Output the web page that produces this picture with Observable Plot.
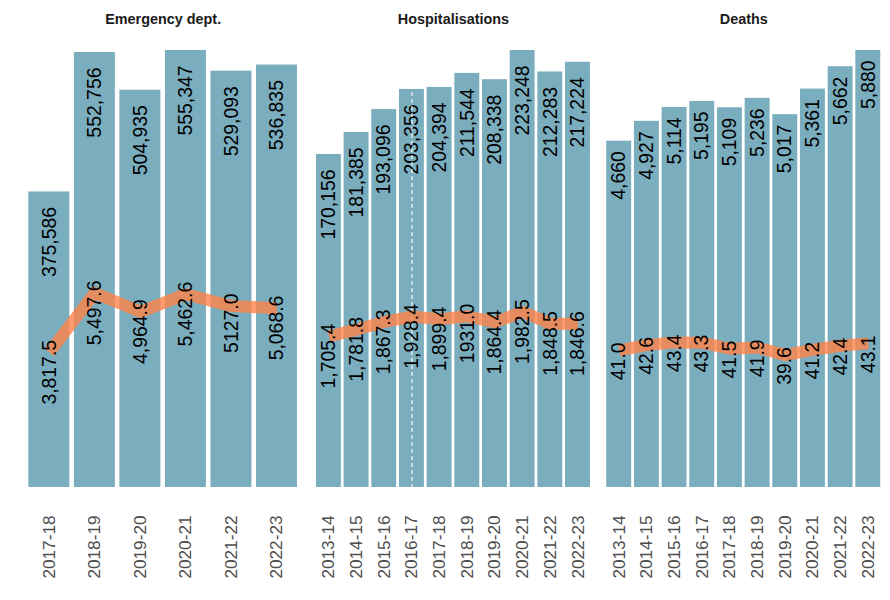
<!DOCTYPE html>
<html>
<head>
<meta charset="utf-8">
<script src="https://cdn.jsdelivr.net/npm/d3@7"></script>
<script src="https://cdn.jsdelivr.net/npm/@observablehq/plot@0.6"></script>
<style>
  body { margin: 0; background: #ffffff; }
  #chart { position: relative; width: 890px; height: 600px; overflow: hidden; }
  #chart svg { position: absolute; left: 0; top: 0; max-width: none; }
</style>
</head>
<body>
<div id="chart"></div>
<script>
// ---------- data ----------
const edYears = ["2017-18", "2018-19", "2019-20", "2020-21", "2021-22", "2022-23"];
const edCounts = [375586, 552756, 504935, 555347, 529093, 536835];
const edRates = [3817.5, 5497.6, 4964.9, 5462.6, 5127.0, 5068.6];
const edRateLabels = ["3,817.5", "5,497.6", "4,964.9", "5,462.6", "5127.0", "5,068.6"];

const hospYears = ["2013-14", "2014-15", "2015-16", "2016-17", "2017-18", "2018-19", "2019-20", "2020-21", "2021-22", "2022-23"];
const hospCounts = [170156, 181385, 193096, 203356, 204394, 211544, 208338, 223248, 212283, 217224];
const hospRates = [1705.4, 1781.8, 1867.3, 1928.4, 1899.4, 1931.0, 1864.4, 1982.5, 1848.5, 1846.6];
const hospRateLabels = ["1,705.4", "1,781.8", "1,867.3", "1,928.4", "1,899.4", "1931.0", "1,864.4", "1,982.5", "1,848.5", "1,846.6"];
const hospBreakYear = ["2016-17"];

const deathYears = ["2013-14", "2014-15", "2015-16", "2016-17", "2017-18", "2018-19", "2019-20", "2020-21", "2021-22", "2022-23"];
const deathCounts = [4660, 4927, 5114, 5195, 5109, 5236, 5017, 5361, 5662, 5880];
const deathRates = [41.0, 42.6, 43.4, 43.3, 41.5, 41.9, 39.6, 41.2, 42.4, 43.1];
const deathRateLabels = ["41.0", "42.6", "43.4", "43.3", "41.5", "41.9", "39.6", "41.2", "42.4", "43.1"];

const panelTitles = ["Emergency dept.", "Hospitalisations", "Deaths"];
// upper end of the secondary (rate) axis for each panel
const rateMax = [12350, 4930, 130.7];

// ---------- layout / style ----------
const W = 890, H = 600, frameW = 282.3, mTop = 50, mBottom = 113;
const lefts = [21.5, 311.8, 602.1];
const barColor = "#7AADBE";
const lineColor = "#FF8247";
const font = "'Liberation Sans', Arial, sans-serif";
const fmt = d3.format(",");

const chart = document.getElementById("chart");

function panel(k, years, counts, rates, rateLabels, barDy, rateDy, rule) {
  const rows = years.map((y, i) => ({year: y, count: counts[i], countLabel: fmt(counts[i]), rate: rates[i], rateLabel: rateLabels[i]}));
  const left = lefts[k];
  const common = {
    width: W, height: H,
    marginLeft: left, marginRight: W - left - frameW,
    marginTop: mTop, marginBottom: mBottom,
    x: {type: "band", domain: years, paddingInner: 0.1, paddingOuter: 0.15, round: false, label: null},
    style: {fontFamily: font, background: "none", overflow: "visible"}
  };
  const base = Plot.plot({
    ...common,
    y: {domain: [0, d3.max(counts)], axis: null},
    marks: [
      Plot.barY(rows, {x: "year", y: "count", fill: barColor}),
      Plot.text(rows, {x: "year", y: "count", text: "countLabel", rotate: -90, textAnchor: "end", dy: barDy, fontSize: 19.4, fill: "#000"}),
      rule ? Plot.ruleX(rule, {stroke: "white", strokeWidth: 1.1, strokeDasharray: "4,3"}) : null,
      Plot.axisX({tickRotate: -90, tickSize: 0, tickPadding: 28, fontSize: 17.2, fill: "#4D4D4D", label: null}),
      Plot.text([panelTitles[k]], {frameAnchor: "top", dy: -37, fontSize: 14.4, fontWeight: "bold", fill: "#1A1A1A"})
    ]
  });
  const over = Plot.plot({
    ...common,
    x: {...common.x, axis: null},
    y: {domain: [0, rateMax[k]], axis: null},
    marks: [
      Plot.lineY(rows, {x: "year", y: "rate", stroke: lineColor, strokeOpacity: 0.8, strokeWidth: 12, strokeLinejoin: "round", strokeLinecap: "butt"}),
      Plot.text(rows, {x: "year", y: "rate", text: "rateLabel", rotate: -90, textAnchor: "end", dy: rateDy, fontSize: 19.4, fill: "#000"})
    ]
  });
  chart.appendChild(base);
  chart.appendChild(over);
}

panel(0, edYears, edCounts, edRates, edRateLabels, 15, -12.5, null);
panel(1, hospYears, hospCounts, hospRates, hospRateLabels, 15, -12.5, hospBreakYear);
panel(2, deathYears, deathCounts, deathRates, deathRateLabels, 10, -8, null);
</script>
</body>
</html>
